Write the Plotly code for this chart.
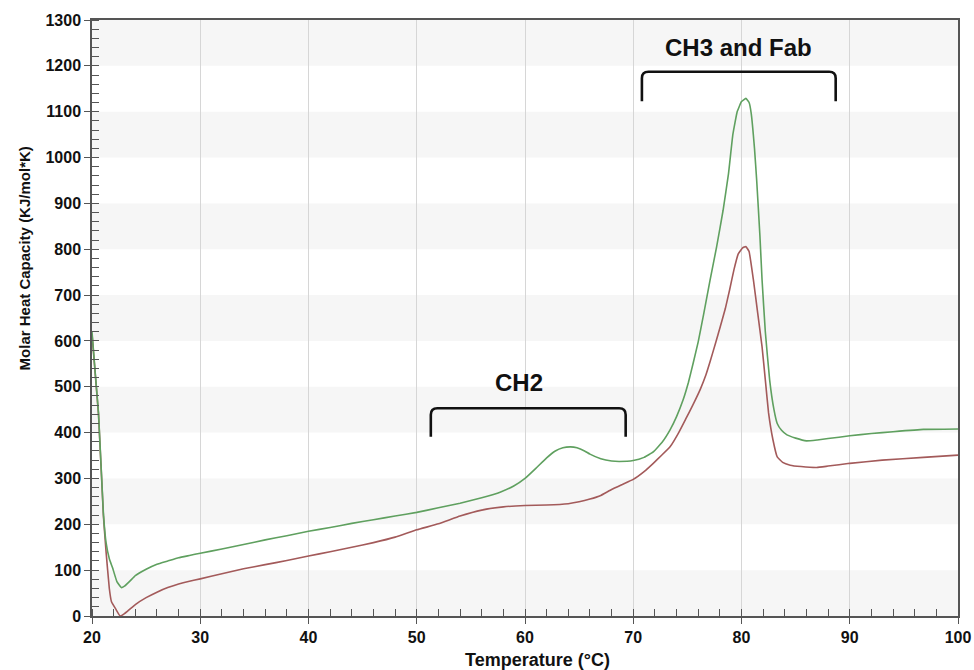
import plotly.graph_objects as go

# ---- data ----
green_x = [20.0, 20.3, 20.6, 21.05, 21.3, 21.6, 21.9, 22.3, 22.7, 23.0, 23.5, 24, 25, 26, 27, 28, 29, 30,
           32, 34, 36, 38, 40, 42, 44, 46, 48, 50, 52, 54, 56, 57.7, 59, 60, 61, 62, 62.8, 63.5, 64.2,
           64.8, 65.5, 66, 67, 68, 68.7, 70, 71, 71.85, 72.7, 73.4, 74, 74.6, 75.1, 75.55, 76, 76.5,
           77.1, 77.7, 78.3, 78.8, 79.2, 79.6, 80.0, 80.4, 80.7, 80.9, 81.2, 81.4, 81.7, 81.9, 82.2,
           82.6, 83.0, 83.3, 83.7, 84.2, 85, 86, 87, 88, 90, 92, 94, 96.8, 100]
green_y = [620, 530, 443, 225, 160, 125, 105, 75, 62, 65, 76, 88, 102, 113, 120, 127, 132, 137,
           146, 156, 166, 175, 185, 193, 202, 210, 218, 226, 236, 246, 258, 270, 284, 300, 322, 345, 360, 367, 369,
           367, 360, 353, 343, 338, 337, 339, 346, 358, 380, 406, 435, 471, 510, 553, 598, 658,
           733, 805, 885, 965, 1050, 1100, 1122, 1129, 1120, 1096, 1020, 951, 830, 733, 620,
           515, 450, 420, 405, 395, 388, 382, 384, 387, 393, 398, 402, 407, 408]

red_x = [20.0, 20.6, 21.05, 21.3, 21.6, 21.8, 22.2, 22.6, 23, 23.5, 24, 25, 26, 27, 28, 29, 30,
         32, 34, 36, 38, 40, 42, 44, 46, 48, 50, 52, 54, 56, 58, 60, 62, 64, 65, 66, 67, 68, 69,
         70, 71, 71.85, 72.6, 73.4, 74.2, 74.9, 75.5, 76.2, 76.7, 77.1, 77.6, 78.05, 78.5, 78.9,
         79.3, 79.7, 80.1, 80.4, 80.7, 81.1, 81.5, 81.9, 82.2, 82.5, 82.9, 83.3, 83.8, 84.5, 85.5,
         86.95, 88, 90, 93, 96.8, 100]
red_y = [615, 440, 220, 140, 60, 31, 15, 0, 5, 15, 25, 40, 52, 62, 70, 76, 81,
         92, 103, 112, 121, 131, 140, 150, 160, 172, 188, 201, 218, 231, 238, 241, 242, 245, 249, 255, 263, 276, 287,
         298, 315, 333, 350, 369, 400, 432, 460, 495, 525, 555, 595, 632, 670, 711,
         755, 790, 803, 806, 795, 733, 660, 587, 515, 443, 385, 347, 335, 329, 326,
         324, 327, 333, 340, 346, 351]

x_title = "Temperature (°C)"
y_title = "Molar Heat Capacity (KJ/mol*K)"
ch2_label = "CH2"
ch3_label = "CH3 and Fab"

# bracket geometry (data units): x0, x1, y_top, y_bottom
ch2_bracket = (51.3, 69.3, 453, 391)
ch3_bracket = (70.8, 88.7, 1187, 1123)

FONT = "Liberation Sans, Arial, sans-serif"
AXC = "#555555"

fig = go.Figure()
fig.add_trace(go.Scatter(x=red_x, y=red_y, mode="lines",
                         line=dict(color="#a35a5a", width=1.6, shape="spline", smoothing=0.3),
                         showlegend=False, hoverinfo="skip"))
fig.add_trace(go.Scatter(x=green_x, y=green_y, mode="lines",
                         line=dict(color="#5fa05f", width=1.6, shape="spline", smoothing=0.3),
                         showlegend=False, hoverinfo="skip"))

shapes = []
# alternating horizontal bands
for lo in range(0, 1300, 200):
    shapes.append(dict(type="rect", xref="paper", yref="y", x0=0, x1=1, y0=lo, y1=lo + 100,
                       fillcolor="#f6f6f6", line=dict(width=0), layer="below"))

def bracket(x0, x1, yt, yb):
    r = 0.6
    ry = 14
    return (f"M {x0},{yb} L {x0},{yt - ry} Q {x0},{yt} {x0 + r},{yt} "
            f"L {x1 - r},{yt} Q {x1},{yt} {x1},{yt - ry} L {x1},{yb}")

for b in (ch2_bracket, ch3_bracket):
    shapes.append(dict(type="path", xref="x", yref="y", path=bracket(*b),
                       line=dict(color="#111111", width=2.6), layer="above"))

annotations = [
    dict(text=ch2_label, x=59.45, y=510, xref="x", yref="y", showarrow=False,
         xanchor="center", yanchor="middle",
         font=dict(family=FONT, size=24, color="#111111", weight="bold")),
    dict(text=ch3_label, x=79.7, y=1240, xref="x", yref="y", showarrow=False,
         xanchor="center", yanchor="middle",
         font=dict(family=FONT, size=24, color="#111111", weight="bold")),
    dict(text=y_title, x=-0.0785, y=0.60, xref="paper", yref="paper", showarrow=False,
         xanchor="center", yanchor="middle", textangle=-90,
         font=dict(family=FONT, size=15, color="#111111", weight="bold")),
    dict(text=x_title, x=0.515, y=-0.074, xref="paper", yref="paper", showarrow=False,
         xanchor="center", yanchor="middle",
         font=dict(family=FONT, size=18, color="#111111", weight="bold")),
]

fig.update_layout(
    width=974, height=670,
    margin=dict(l=92, r=16, t=20, b=54),
    paper_bgcolor="white", plot_bgcolor="white",
    shapes=shapes, annotations=annotations,
    font=dict(family=FONT, color="#111111"),
    xaxis=dict(range=[20, 100], dtick=10, tick0=0, showgrid=True, gridcolor="#d6d6d6", gridwidth=1,
               zeroline=False, showline=True, linecolor=AXC, linewidth=1.5, mirror=True, automargin=False,
               ticks="outside", ticklen=6, tickwidth=1.3, tickcolor=AXC,
               tickfont=dict(family=FONT, size=16, color="#111111", weight="bold"),
               minor=dict(dtick=2, ticks="inside", ticklen=7, tickwidth=1.2, tickcolor=AXC, showgrid=False)),
    yaxis=dict(range=[0, 1300], dtick=100, tick0=0, showgrid=False, automargin=False,
               zeroline=False, showline=True, linecolor=AXC, linewidth=1.5, mirror=True,
               ticks="outside", ticklen=6, tickwidth=1.3, tickcolor=AXC,
               tickfont=dict(family=FONT, size=16, color="#111111", weight="bold"),
               minor=dict(dtick=20, ticks="inside", ticklen=7, tickwidth=1.2, tickcolor=AXC, showgrid=False)),
    xaxis2=dict(overlaying="x", matches="x", anchor="y", side="bottom", range=[20, 100], dtick=10, tick0=0,
                showticklabels=False, showgrid=False, zeroline=False, ticks="inside", ticklen=7,
                tickwidth=1.3, tickcolor=AXC, showline=False, automargin=False),
    yaxis2=dict(overlaying="y", matches="y", anchor="x", side="left", range=[0, 1300], dtick=100, tick0=0,
                showticklabels=False, showgrid=False, zeroline=False, ticks="inside", ticklen=7,
                tickwidth=1.3, tickcolor=AXC, showline=False, automargin=False),
)

# remove the browser's default 8px body margin so the figure fills the window exactly
fig.write_html("out.html", config={"displayModeBar": False},
               post_script="document.body.style.margin='0px'; document.body.style.overflow='hidden';")
